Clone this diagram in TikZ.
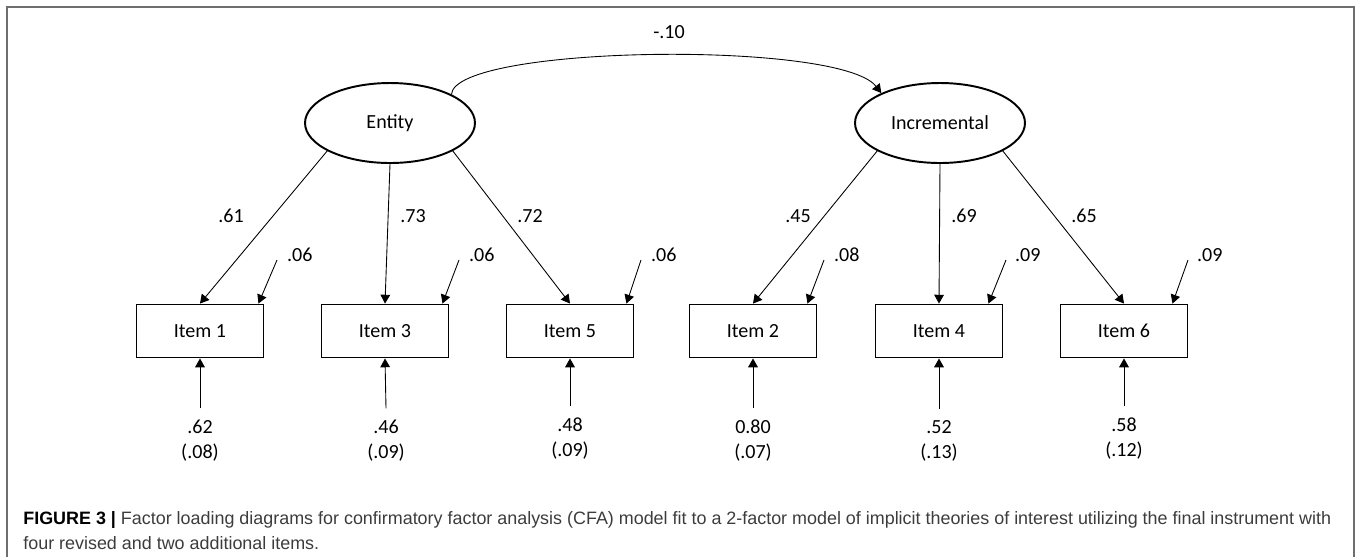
\documentclass[tikz,border=0pt]{standalone}
\usepackage{fontspec}
\setmainfont{Carlito}
\newfontfamily\capfont{Liberation Sans}
\usepackage{tikz}
\usetikzlibrary{shapes,arrows.meta,positioning}
\definecolor{framegray}{RGB}{110,110,110}
\definecolor{capgray}{RGB}{60,60,60}

\begin{document}
\begin{tikzpicture}[x=0.02cm, y=-0.02cm, >={Triangle[length=5pt,width=5.5pt]},
    font=\fontsize{11.4}{14.2}\selectfont,
    factor/.style={draw, ellipse, line width=1.1pt, minimum width=3.4cm, minimum height=1.6cm},
    item/.style={draw, rectangle, line width=1.1pt, minimum width=2.54cm, minimum height=1.06cm},
    path/.style={->, line width=0.5pt},
    errlab/.style={anchor=west, inner sep=1pt},
    resid/.style={align=center, inner sep=1pt}]

    \useasboundingbox (0,0) rectangle (1359,556);
    \draw[framegray, line width=1.2pt] (7,7) rectangle (1354,600);

    % Latent factors
    \node[factor] (entity) at (390,123) {Entity};
    \node[factor] (incr) at (940,123) {Incremental};

    \draw[path] (entity.25) .. controls (455,45) and (840,40) .. (incr.153);
    \node (cov) at (669,32) {-.10};

    % Observed items
    \node[item] (item1) at (200,331) {Item 1};
    \node[item] (item3) at (385,331) {Item 3};
    \node[item] (item5) at (570,331) {Item 5};
    \node[item] (item2) at (753,331) {Item 2};
    \node[item] (item4) at (939,331) {Item 4};
    \node[item] (item6) at (1124,331) {Item 6};

    % Loadings
    \draw[path] (entity.204) -- (item1.north);
    \draw[path] (entity.south) -- (item3.north);
    \draw[path] (entity.336) -- (item5.north);
    \draw[path] (incr.204) -- (item2.north);
    \draw[path] (incr.south) -- (item4.north);
    \draw[path] (incr.336) -- (item6.north);

    \node (l1) at (231,216) {.61};
    \node (l3) at (413,216) {.73};
    \node (l5) at (530,216) {.72};
    \node (l2) at (798,216) {.45};
    \node (l4) at (964,216) {.69};
    \node (l6) at (1084,216) {.65};

    % Error terms (top)
    \coordinate (e1) at (277,260);
    \coordinate (e3) at (459,260);
    \coordinate (e5) at (641,260);
    \coordinate (e2) at (824,260);
    \coordinate (e4) at (1006,260);
    \coordinate (e6) at (1188,260);

    \draw[path] (e1) -- ([xshift=-0.12cm]item1.north east);
    \draw[path] (e3) -- ([xshift=-0.14cm]item3.north east);
    \draw[path] (e5) -- ([xshift=-0.16cm]item5.north east);
    \draw[path] (e2) -- ([xshift=-0.2cm]item2.north east);
    \draw[path] (e4) -- ([xshift=-0.3cm]item4.north east);
    \draw[path] (e6) -- ([xshift=-0.32cm]item6.north east);

    \node[errlab] (v1) at (285,255) {.06};
    \node[errlab] (v3) at (467,255) {.06};
    \node[errlab] (v5) at (649,255) {.06};
    \node[errlab] (v2) at (832,255) {.08};
    \node[errlab] (v4) at (1013,255) {.09};
    \node[errlab] (v6) at (1195,255) {.09};

    % Residuals (bottom)
    \node[resid] (r1) at (200,441) {.62\\(.08)};
    \node[resid] (r3) at (386,441) {.46\\(.09)};
    \node[resid] (r5) at (570,439) {.48\\(.09)};
    \node[resid] (r2) at (753,441) {0.80\\(.07)};
    \node[resid] (r4) at (939,441) {.52\\(.13)};
    \node[resid] (r6) at (1124,439) {.58\\(.12)};

    \draw[path] ([yshift=0.2cm]r1.north) -- (item1.south);
    \draw[path] ([yshift=0.2cm]r3.north) -- (item3.south);
    \draw[path] ([yshift=0.2cm]r5.north) -- (item5.south);
    \draw[path] ([yshift=0.2cm]r2.north) -- (item2.south);
    \draw[path] ([yshift=0.2cm]r4.north) -- (item4.south);
    \draw[path] ([yshift=0.2cm]r6.north) -- (item6.south);

    % Caption
    \node[anchor=base west, align=left, inner sep=0pt, text=capgray,
          font=\capfont\fontsize{10.2}{14.2}\selectfont] (caption) at (23,549)
      {\textcolor{black}{\textbf{FIGURE 3 |}} Factor loading diagrams for confirmatory factor analysis (CFA) model fit to a 2-factor model of implicit theories of interest utilizing the final instrument with\\four revised and two additional items.};

\end{tikzpicture}
\end{document}
